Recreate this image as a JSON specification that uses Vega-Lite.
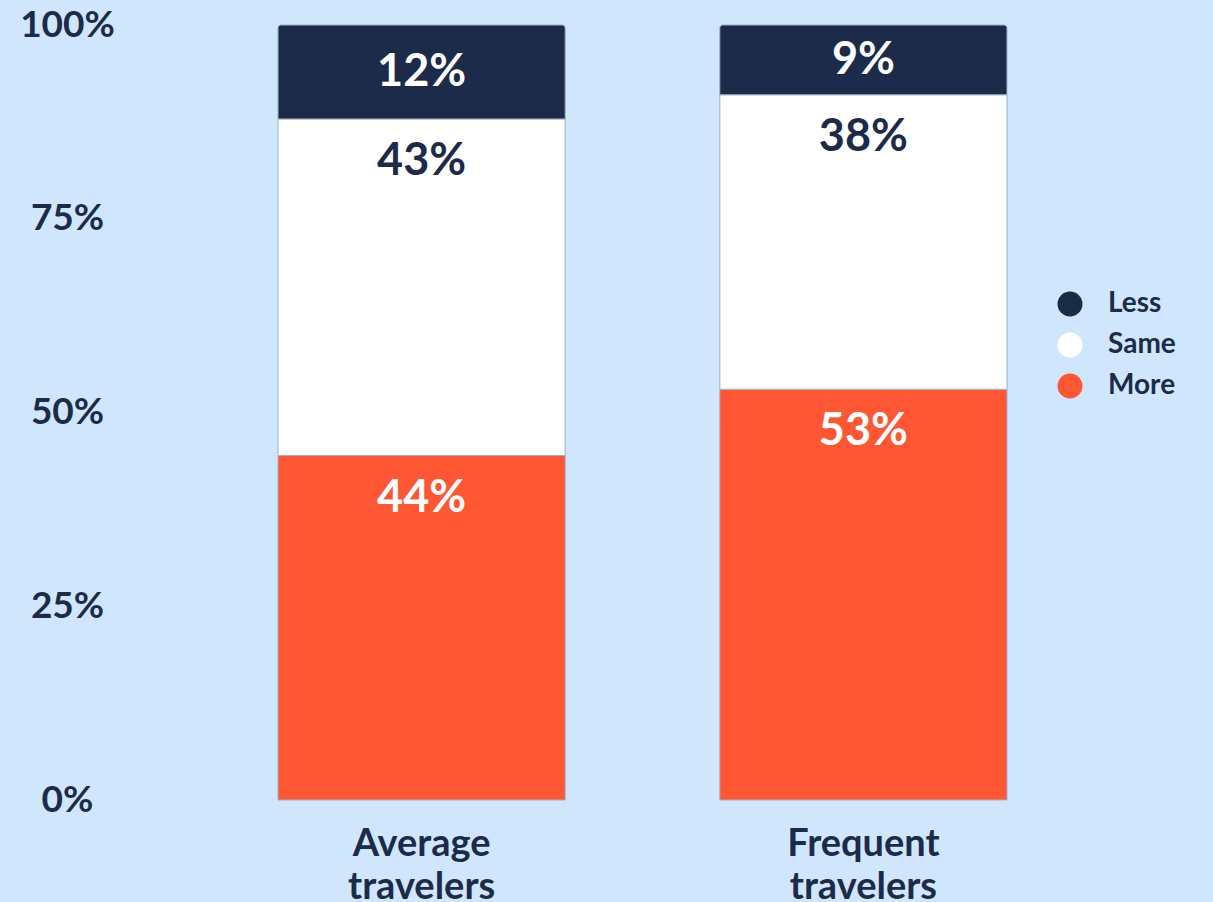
{
  "$schema": "https://vega.github.io/schema/vega-lite/v6.json",
  "autosize": {"type": "none"},
  "padding": {"left": 130, "top": 25, "right": 58, "bottom": 102},
  "width": 1025,
  "height": 775,
  "background": "#d0e6fc",
  "config": {
    "view": {"stroke": null},
    "font": "Lato",
    "axis": {"labelFont": "Lato", "labelFontWeight": "bold", "labelColor": "#1c2b4a"},
    "legend": {"labelFont": "Lato", "labelFontWeight": "bold", "labelColor": "#1c2b4a"}
  },
  "data": {
    "values": [
      {"group": "Average travelers", "response": "More", "order": 1, "share": 0.44},
      {"group": "Average travelers", "response": "Same", "order": 2, "share": 0.43},
      {"group": "Average travelers", "response": "Less", "order": 3, "share": 0.12},
      {"group": "Frequent travelers", "response": "More", "order": 1, "share": 0.53},
      {"group": "Frequent travelers", "response": "Same", "order": 2, "share": 0.38},
      {"group": "Frequent travelers", "response": "Less", "order": 3, "share": 0.09}
    ]
  },
  "transform": [
    {
      "stack": "share",
      "groupby": ["group"],
      "sort": [{"field": "order", "order": "ascending"}],
      "offset": "normalize",
      "as": ["y0", "y1"]
    },
    {"calculate": "(datum.y0 + datum.y1) / 2", "as": "ymid"}
  ],
  "encoding": {
    "x": {
      "field": "group",
      "type": "nominal",
      "scale": {"paddingInner": 0.35, "paddingOuter": 0.335},
      "axis": {
        "title": null,
        "domain": false,
        "ticks": false,
        "labelAngle": 0,
        "labelFontSize": 38,
        "labelPadding": 25,
        "labelLineHeight": 43,
        "labelExpr": "split(datum.label, ' ')"
      }
    }
  },
  "layer": [
    {
      "transform": [{"filter": "datum.response !== 'Less'"}],
      "mark": {"type": "bar", "stroke": "#9fb0c6", "strokeWidth": 1},
      "encoding": {
        "y": {
          "field": "y0",
          "type": "quantitative",
          "scale": {"domain": [0, 1]},
          "axis": {
            "title": null,
            "domain": false,
            "ticks": false,
            "grid": false,
            "values": [0, 0.25, 0.5, 0.75, 1],
            "format": ".0%",
            "labelFontSize": 37,
            "labelAlign": "center",
            "labelPadding": 63
          }
        },
        "y2": {"field": "y1"},
        "color": {
          "field": "response",
          "type": "nominal",
          "scale": {"domain": ["Less", "Same", "More"], "range": ["#1c2b4a", "#ffffff", "#ff5733"]},
          "legend": {
            "title": null,
            "orient": "none",
            "legendX": 926,
            "legendY": 265,
            "padding": 0,
            "symbolType": "circle",
            "symbolSize": 625,
            "symbolStrokeWidth": 0,
            "symbolOpacity": 1,
            "labelFontSize": 28,
            "labelOffset": 24,
            "rowPadding": 13
          }
        }
      }
    },
    {
      "transform": [{"filter": "datum.response === 'Less'"}],
      "mark": {"type": "bar", "stroke": "#9fb0c6", "strokeWidth": 1, "cornerRadiusTopLeft": 3, "cornerRadiusTopRight": 3},
      "encoding": {
        "y": {"field": "y0", "type": "quantitative"},
        "y2": {"field": "y1"},
        "color": {"field": "response", "type": "nominal"}
      }
    },
    {
      "transform": [{"filter": "datum.response !== 'Less'"}],
      "mark": {"type": "text", "fontSize": 45, "fontWeight": "bold", "baseline": "middle", "dy": 42},
      "encoding": {
        "y": {"field": "y1", "type": "quantitative"},
        "text": {"field": "share", "type": "quantitative", "format": ".0%"},
        "color": {
          "condition": {"test": "datum.response === 'Same'", "value": "#1c2b4a"},
          "value": "#ffffff"
        }
      }
    },
    {
      "transform": [{"filter": "datum.response === 'Less'"}],
      "mark": {"type": "text", "fontSize": 45, "fontWeight": "bold", "baseline": "middle", "color": "#ffffff"},
      "encoding": {
        "y": {"field": "ymid", "type": "quantitative"},
        "text": {"field": "share", "type": "quantitative", "format": ".0%"}
      }
    }
  ]
}
